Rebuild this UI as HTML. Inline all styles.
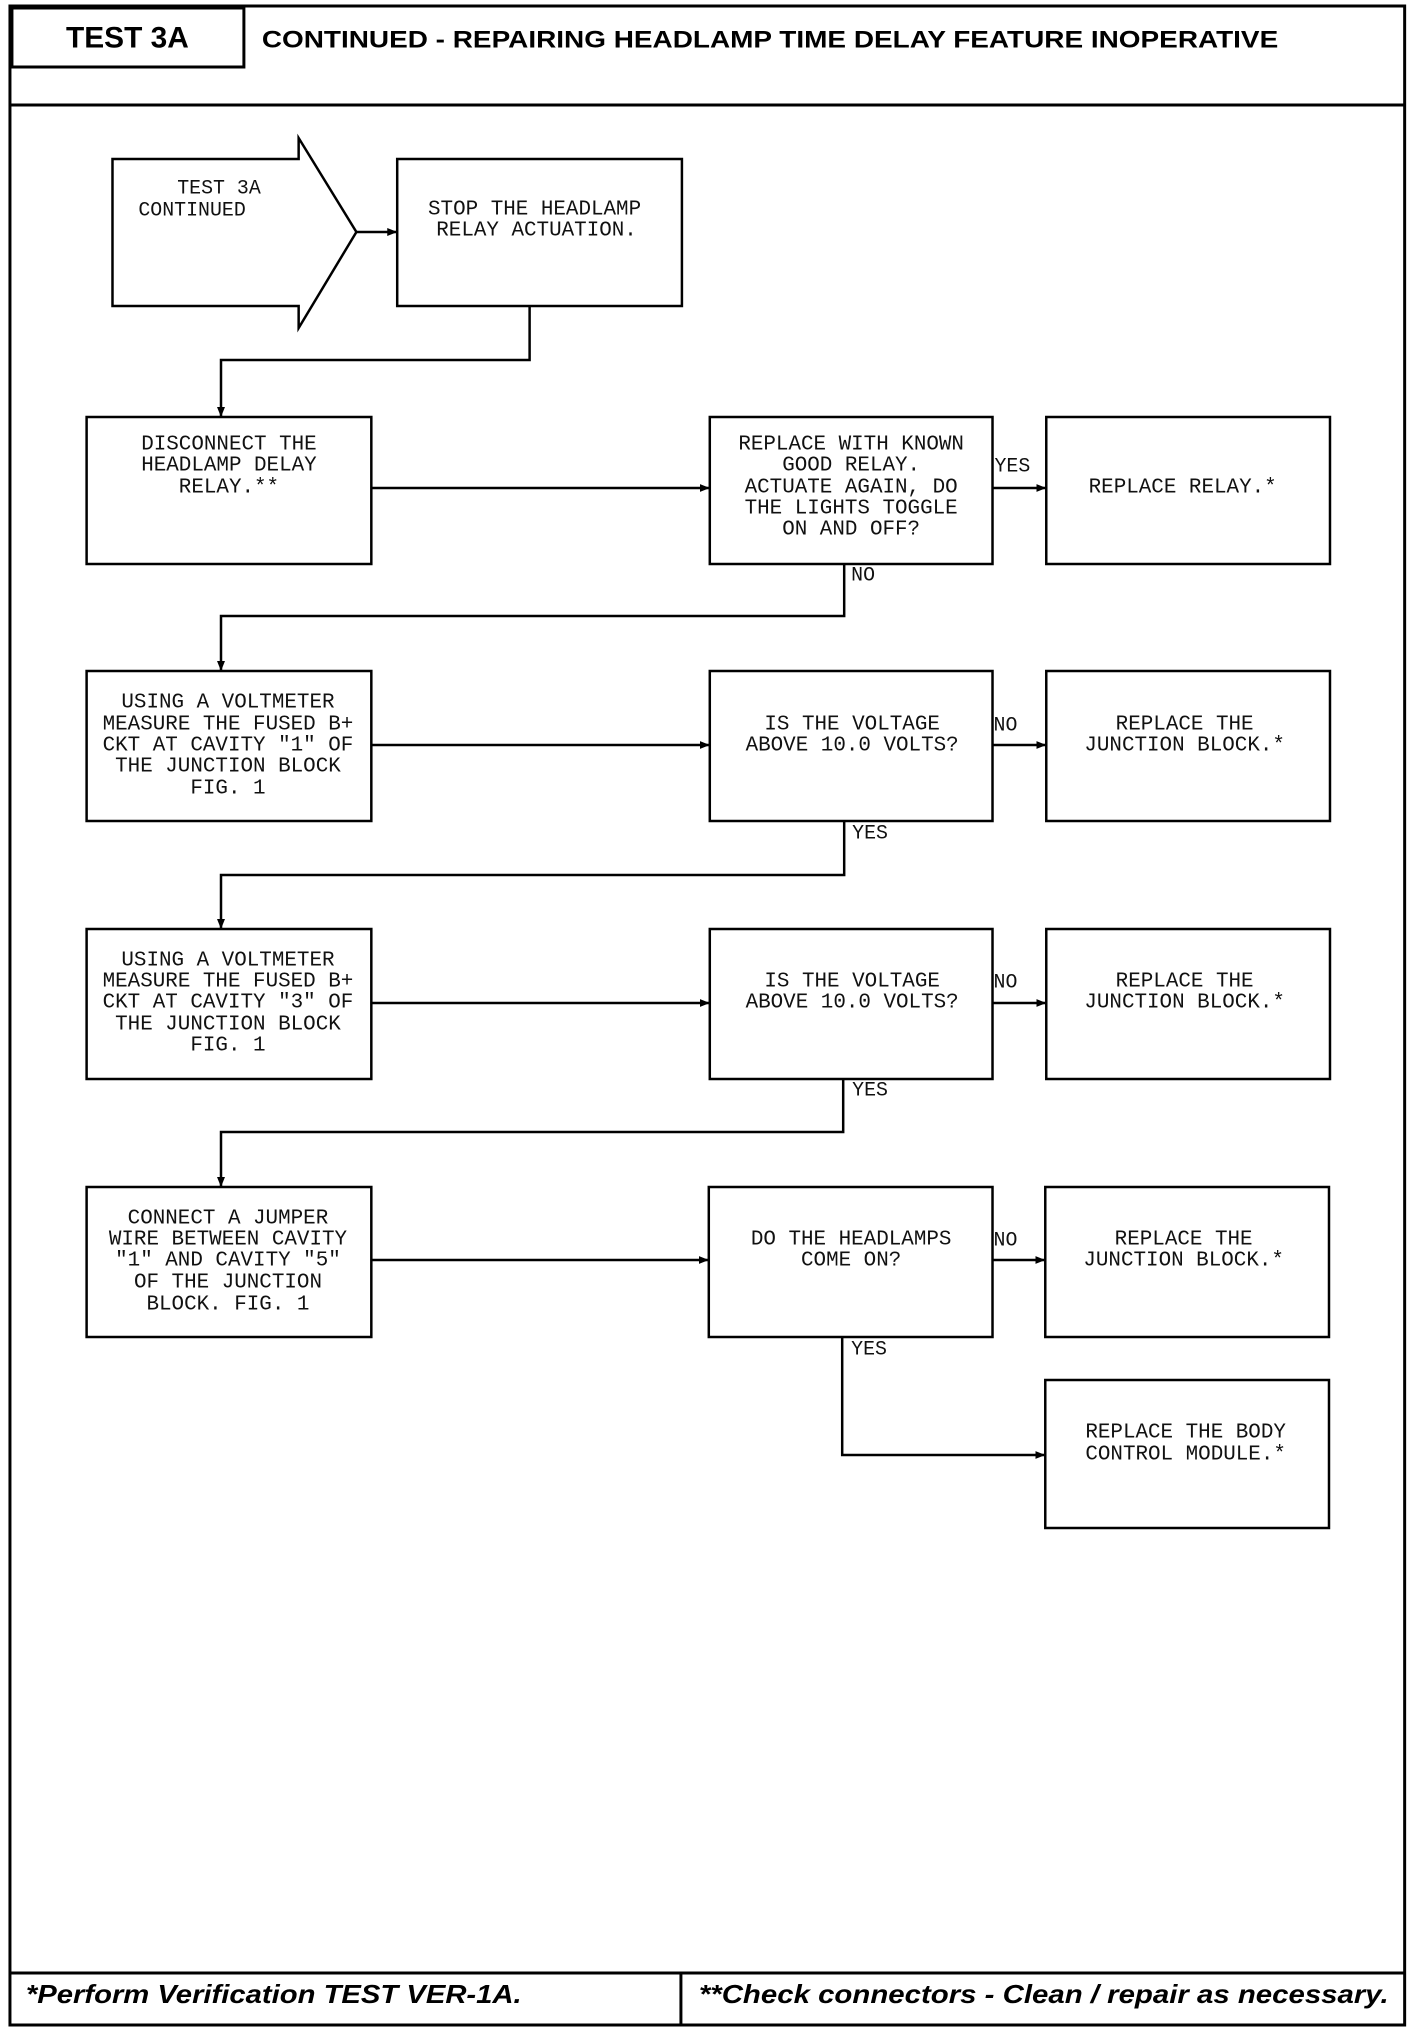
<!DOCTYPE html>
<html><head><meta charset="utf-8"><style>
html,body{margin:0;padding:0;background:#fff}
svg{display:block}
.m{font-family:"Liberation Mono",monospace;font-size:21px;fill:#111;text-anchor:middle;dominant-baseline:central}
.l{font-family:"Liberation Mono",monospace;font-size:20px;fill:#111;dominant-baseline:central}
</style></head><body>
<svg width="1424" height="2030" viewBox="0 0 1424 2030" xmlns="http://www.w3.org/2000/svg">
<defs><marker id="a" markerWidth="10" markerHeight="8" refX="9" refY="4" orient="auto" markerUnits="userSpaceOnUse"><path d="M0,0 L10,4 L0,8 z" fill="#000"/></marker></defs>
<g transform="scale(0.9955,1)">
<g fill="none" stroke="#000" stroke-width="3">
<rect x="10" y="6" width="1401" height="2019"/>
<rect x="12" y="8" width="233" height="59"/>
<line x1="10" y1="105" x2="1411" y2="105"/>
<line x1="10" y1="1973" x2="1411" y2="1973"/>
<line x1="684" y1="1973" x2="684" y2="2025"/>
</g>
<text x="128" y="38" font-family="Liberation Sans,sans-serif" font-weight="bold" font-size="30" text-anchor="middle" dominant-baseline="central">TEST 3A</text>
<text x="263" y="40" font-family="Liberation Sans,sans-serif" font-weight="bold" font-size="24" dominant-baseline="central" textLength="1021" lengthAdjust="spacingAndGlyphs">CONTINUED - REPAIRING HEADLAMP TIME DELAY FEATURE INOPERATIVE</text>
<text x="26" y="1995" font-family="Liberation Sans,sans-serif" font-weight="bold" font-style="italic" font-size="26" dominant-baseline="central" textLength="498" lengthAdjust="spacingAndGlyphs">*Perform Verification TEST VER-1A.</text>
<text x="702" y="1995" font-family="Liberation Sans,sans-serif" font-weight="bold" font-style="italic" font-size="26" dominant-baseline="central" textLength="693" lengthAdjust="spacingAndGlyphs">**Check connectors - Clean / repair as necessary.</text>

<g fill="none" stroke="#000" stroke-width="2.5">
<path d="M113,159 L300,159 L300,138 L358,232 L300,328 L300,306 L113,306 Z"/>
<rect x="399" y="159" width="286" height="147"/>
<rect x="87" y="417" width="286" height="147"/>
<rect x="713" y="417" width="284" height="147"/>
<rect x="1051" y="417" width="285" height="147"/>
<rect x="87" y="671" width="286" height="150"/>
<rect x="713" y="671" width="284" height="150"/>
<rect x="1051" y="671" width="285" height="150"/>
<rect x="87" y="929" width="286" height="150"/>
<rect x="713" y="929" width="284" height="150"/>
<rect x="1051" y="929" width="285" height="150"/>
<rect x="87" y="1187" width="286" height="150"/>
<rect x="712" y="1187" width="285" height="150"/>
<rect x="1050" y="1187" width="285" height="150"/>
<rect x="1050" y="1380" width="285" height="148"/>
</g>
<g fill="none" stroke="#000" stroke-width="2.5" marker-end="url(#a)">
<line x1="358" y1="232" x2="398" y2="232"/>
<polyline points="532,306 532,360 222,360 222,416"/>
<line x1="373" y1="488" x2="712" y2="488"/>
<line x1="997" y1="488" x2="1050" y2="488"/>
<polyline points="848,564 848,616 222,616 222,670"/>
<line x1="373" y1="745" x2="712" y2="745"/>
<line x1="997" y1="745" x2="1050" y2="745"/>
<polyline points="848,821 848,875 222,875 222,928"/>
<line x1="373" y1="1003" x2="712" y2="1003"/>
<line x1="997" y1="1003" x2="1050" y2="1003"/>
<polyline points="847,1079 847,1132 222,1132 222,1186"/>
<line x1="373" y1="1260" x2="711" y2="1260"/>
<line x1="997" y1="1260" x2="1049" y2="1260"/>
<polyline points="846,1337 846,1455 1049,1455"/>
</g>

<text class="l" x="178" y="188">TEST 3A</text>
<text class="l" x="139" y="210">CONTINUED</text>
<text class="m" x="537" y="210">STOP THE HEADLAMP</text>
<text class="m" x="539" y="231">RELAY ACTUATION.</text>

<text class="m" x="230" y="445">DISCONNECT THE</text>
<text class="m" x="230" y="466">HEADLAMP DELAY</text>
<text class="m" x="230" y="488">RELAY.**</text>
<text class="m" x="855" y="445">REPLACE WITH KNOWN</text>
<text class="m" x="855" y="466">GOOD RELAY.</text>
<text class="m" x="855" y="488">ACTUATE AGAIN, DO</text>
<text class="m" x="855" y="509">THE LIGHTS TOGGLE</text>
<text class="m" x="855" y="530">ON AND OFF?</text>
<text class="m" x="1188" y="488">REPLACE RELAY.*</text>
<text class="l" x="999" y="466">YES</text>
<text class="l" x="855" y="575">NO</text>

<text class="m" x="229" y="703">USING A VOLTMETER</text>
<text class="m" x="229" y="725">MEASURE THE FUSED B+</text>
<text class="m" x="229" y="746">CKT AT CAVITY "1" OF</text>
<text class="m" x="229" y="767">THE JUNCTION BLOCK</text>
<text class="m" x="229" y="789">FIG. 1</text>
<text class="m" x="856" y="725">IS THE VOLTAGE</text>
<text class="m" x="856" y="746">ABOVE 10.0 VOLTS?</text>
<text class="m" x="1190" y="725">REPLACE THE</text>
<text class="m" x="1190" y="746">JUNCTION BLOCK.*</text>
<text class="l" x="998" y="725">NO</text>
<text class="l" x="856" y="833">YES</text>

<text class="m" x="229" y="961">USING A VOLTMETER</text>
<text class="m" x="229" y="982">MEASURE THE FUSED B+</text>
<text class="m" x="229" y="1003">CKT AT CAVITY "3" OF</text>
<text class="m" x="229" y="1025">THE JUNCTION BLOCK</text>
<text class="m" x="229" y="1046">FIG. 1</text>
<text class="m" x="856" y="982">IS THE VOLTAGE</text>
<text class="m" x="856" y="1003">ABOVE 10.0 VOLTS?</text>
<text class="m" x="1190" y="982">REPLACE THE</text>
<text class="m" x="1190" y="1003">JUNCTION BLOCK.*</text>
<text class="l" x="998" y="982">NO</text>
<text class="l" x="856" y="1090">YES</text>

<text class="m" x="229" y="1219">CONNECT A JUMPER</text>
<text class="m" x="229" y="1240">WIRE BETWEEN CAVITY</text>
<text class="m" x="229" y="1261">"1" AND CAVITY "5"</text>
<text class="m" x="229" y="1283">OF THE JUNCTION</text>
<text class="m" x="229" y="1305">BLOCK. FIG. 1</text>
<text class="m" x="855" y="1240">DO THE HEADLAMPS</text>
<text class="m" x="855" y="1261">COME ON?</text>
<text class="m" x="1189" y="1240">REPLACE THE</text>
<text class="m" x="1189" y="1261">JUNCTION BLOCK.*</text>
<text class="l" x="998" y="1240">NO</text>
<text class="l" x="855" y="1349">YES</text>

<text class="m" x="1191" y="1433">REPLACE THE BODY</text>
<text class="m" x="1191" y="1455">CONTROL MODULE.*</text>
</g>
</svg>
</body></html>
